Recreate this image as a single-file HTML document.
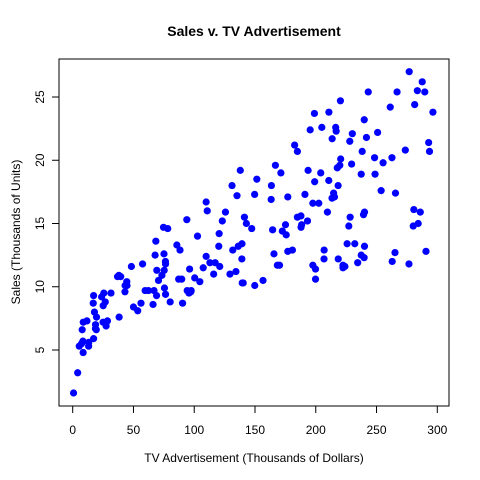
<!DOCTYPE html>
<html><head><meta charset="utf-8"><style>
body{margin:0;background:#fff}
svg{display:block;font-family:"Liberation Sans",sans-serif}
</style></head><body>
<svg id="chart" width="480" height="480">
<rect x="0" y="0" width="480" height="480" fill="#fff"/>
<text x="254" y="36" text-anchor="middle" font-size="14" font-weight="bold">Sales v. TV Advertisement</text>
<rect x="59" y="59" width="390" height="347" fill="none" stroke="#000" stroke-width="1"/>
<g id="xaxis"></g>
<g id="yaxis"></g>
<text x="254" y="462" text-anchor="middle" font-size="12">TV Advertisement (Thousands of Dollars)</text>
<text transform="translate(20,232) rotate(-90)" text-anchor="middle" font-size="12">Sales (Thousands of Units)</text>
<g id="points"></g>
</svg>
<script>
const tv=[230.1,44.5,17.2,151.5,180.8,8.7,57.5,120.2,8.6,199.8,66.1,214.7,23.8,97.5,204.1,195.4,67.8,281.4,69.2,147.3,218.4,237.4,13.2,228.3,62.3,262.9,142.9,240.1,248.8,70.6,292.9,112.9,97.2,265.6,95.7,290.7,266.9,74.7,43.1,228,202.5,177,293.6,206.9,25.1,175.1,89.7,239.9,227.2,66.9,199.8,100.4,216.4,182.6,262.7,198.9,7.3,136.2,210.8,210.7,53.5,261.3,239.3,102.7,131.1,69,31.5,139.3,237.4,216.8,199.1,109.8,26.8,129.4,213.4,16.9,27.5,120.5,5.4,116,76.4,239.8,75.3,68.4,213.5,193.2,76.3,110.7,88.3,109.8,134.3,28.6,217.7,250.9,107.4,163.3,197.6,184.9,289.7,135.2,222.4,296.4,280.2,187.9,238.2,137.9,25,90.4,13.1,255.4,225.8,241.7,175.7,209.6,78.2,75.1,139.2,76.4,125.7,19.4,141.3,18.8,224,123.1,229.5,87.2,7.8,80.2,220.3,59.6,0.7,265.2,8.4,219.8,36.9,48.3,25.6,273.7,43,184.9,73.4,193.7,220.5,104.6,96.2,140.3,240.1,243.2,38,44.7,280.7,121,197.6,171.3,187.8,4.1,93.9,149.8,11.7,131.7,172.5,85.7,188.4,163.5,117.2,234.5,17.9,206.8,215.4,284.3,50,164.5,19.6,168.4,222.4,276.9,248.4,170.2,276.7,165.6,156.6,218.5,56.2,287.6,253.8,205,139.5,191.1,286,18.7,39.5,75.5,17.2,166.8,149.7,38.2,94.2,177,283.6,232.1];
const sales=[22.1,10.4,9.3,18.5,12.9,7.2,11.8,13.2,4.8,10.6,8.6,17.4,9.2,9.7,19,22.4,12.5,24.4,11.3,14.6,18,12.5,5.6,15.5,9.7,12,15,15.9,18.9,10.5,21.4,11.9,9.6,17.4,9.5,12.8,25.4,14.7,10.1,21.5,16.6,17.1,20.7,12.9,8.5,14.9,10.6,23.2,14.8,9.7,11.4,10.7,22.6,21.2,20.2,23.7,5.5,13.2,23.8,18.4,8.1,24.2,15.7,14,18,9.3,9.5,13.4,18.9,22.3,18.3,12.4,8.8,11,17,8.7,6.9,14.2,5.3,11,11.8,12.3,11.3,13.6,21.7,15.2,12,16,12.9,16.7,11.2,7.3,19.4,22.2,11.5,16.9,11.7,15.5,25.4,17.2,11.7,23.8,14.8,14.7,20.7,19.2,7.2,8.7,5.3,19.8,13.4,21.8,14.1,15.9,14.6,12.6,12.2,9.4,15.9,6.6,15.5,7,11.6,15.2,19.7,10.6,6.6,8.8,24.7,9.7,1.6,12.7,5.7,19.6,10.8,11.6,9.5,20.8,9.6,20.7,10.9,19.2,20.1,10.4,11.4,10.3,13.2,25.4,10.9,10.1,16.1,11.6,16.6,19,15.6,3.2,15.3,10.1,7.3,12.9,14.4,13.3,14.9,18,11.9,11.9,8,12.2,17.1,15,8.4,14.5,7.6,11.7,11.5,27,20.2,11.7,11.8,12.6,10.5,12.2,8.7,26.2,17.6,22.6,10.3,17.3,15.9,6.7,10.8,9.9,5.9,19.6,17.3,7.6,9.7,12.8,25.5,13.4];
const xTicks=[0,50,100,150,200,250,300];
const yTicks=[5,10,15,20,25];
const NS="http://www.w3.org/2000/svg";
function sx(v){return 72.7+v*1.2153;}
function sy(v){return 350-(v-5)*12.65;}
function mk(tag,attrs,parent){const e=document.createElementNS(NS,tag);for(const k in attrs)e.setAttribute(k,attrs[k]);parent.appendChild(e);return e;}
const xa=document.getElementById('xaxis'),ya=document.getElementById('yaxis'),pts=document.getElementById('points');
mk('line',{x1:sx(xTicks[0]),x2:sx(xTicks[xTicks.length-1]),y1:406,y2:406,stroke:'#000'},xa);
xTicks.forEach(t=>{
  const l=mk('line',{x1:sx(t),x2:sx(t),y1:406,y2:413,stroke:'#000'},xa);
  
  
  const tx=mk('text',{x:sx(t),y:434,'text-anchor':'middle','font-size':12},xa);
  tx.textContent=t;
  
  
});
mk('line',{x1:59,x2:59,y1:sy(yTicks[0]),y2:sy(yTicks[yTicks.length-1]),stroke:'#000'},ya);
yTicks.forEach(t=>{
  const l=mk('line',{x1:52,x2:59,y1:sy(t),y2:sy(t),stroke:'#000'},ya);
  
  
  const tx=mk('text',{transform:`translate(44,${sy(t)}) rotate(-90)`,'text-anchor':'middle','font-size':12},ya);
  tx.textContent=t;
  
  
});
tv.forEach((v,i)=>{
  const c=mk('circle',{cx:sx(v),cy:sy(sales[i]),r:3.6,fill:'#0000ff'},pts);
  
  
});
</script>
</body></html>
